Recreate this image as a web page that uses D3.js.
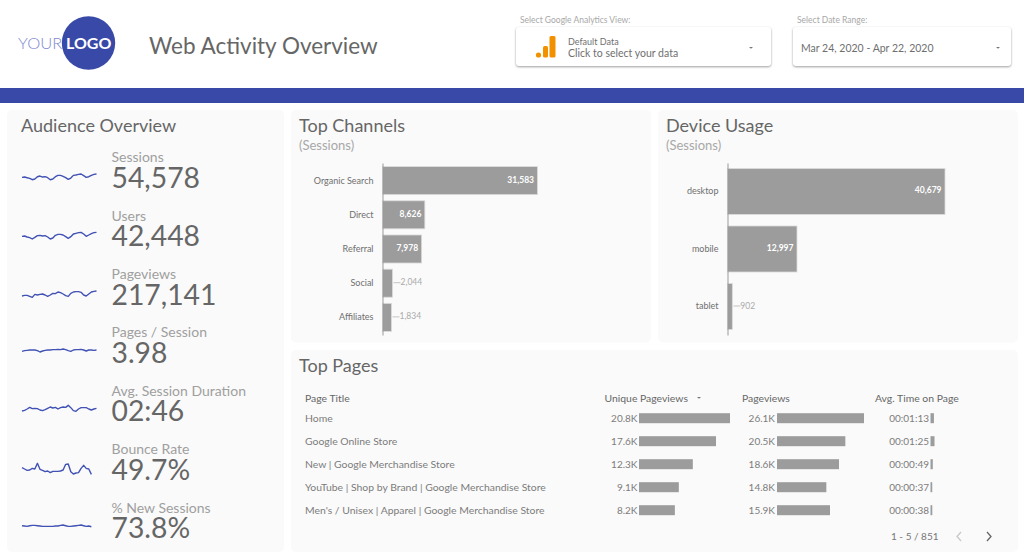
<!DOCTYPE html>
<html>
<head>
<meta charset="utf-8">
<script src="https://cdn.jsdelivr.net/npm/d3@7"></script>
<style>
  html, body { margin: 0; padding: 0; background: #fff; overflow: hidden; }
  svg { display: block; font-family: Lato, sans-serif; }
  .axis path { stroke: #9a9a9a; }
  .axis text { font-family: Lato, sans-serif; font-size: 9px; fill: #6f6f6f; }
</style>
</head>
<body>
<div id="chart"></div>
<script>
/* Web Activity Overview — D3 dashboard */

const metricNames = ["Sessions", "Users", "Pageviews", "Pages / Session", "Avg. Session Duration", "Bounce Rate", "% New Sessions"];
const metricValues = ["54,578", "42,448", "217,141", "3.98", "02:46", "49.7%", "73.8%"];

const sessionsTrend = [28,29,27,25,21,23,30,32,29,30,27,21,23,30,34,34,31,27,22,26,34,35,37,38,33,28,30,34,37,38];
const usersTrend = [29,30,27,25,21,26,31,32,30,31,27,21,24,32,35,35,33,28,23,28,36,38,40,41,36,29,33,37,40,41];
const pageviewsTrend = [27,29,29,26,23,32,30,32,33,30,26,30,35,34,39,37,33,28,26,35,39,40,40,38,30,27,33,39,41,42];
const pagesTrend = [26,28,29,30,30,30,28,24,27,29,30,30,31,31,32,31,33,31,28,26,30,31,31,32,30,27,30,30,29,30];
const durationTrend = [24,26,30,35,31,32,31,27,25,28,32,36,33,35,30,34,36,35,41,34,25,23,30,34,34,34,30,27,30,32];
const bounceTrend = [37,33,29,30,35,33,50,32,29,25,27,22,26,26,26,27,30,47,48,25,18,21,22,35,44,35,33,17];
const newSessionsTrend = [30,29,28,30,31,31,30,29,28,28,28,28,28,29,29,31,32,30,28,28,29,30,31,32,30,28,29,27];
const trends = [sessionsTrend, usersTrend, pageviewsTrend, pagesTrend, durationTrend, bounceTrend, newSessionsTrend];

const channelNames = ["Organic Search", "Direct", "Referral", "Social", "Affiliates"];
const channelSessions = [31583, 8626, 7978, 2044, 1834];

const deviceNames = ["desktop", "mobile", "tablet"];
const deviceSessions = [40679, 12997, 902];

const pageTitles = [
  "Home",
  "Google Online Store",
  "New | Google Merchandise Store",
  "YouTube | Shop by Brand | Google Merchandise Store",
  "Men's / Unisex | Apparel | Google Merchandise Store",
];
const uniquePageviews = [20800, 17600, 12300, 9100, 8200];
const pageviews = [26100, 20500, 18600, 14800, 15900];
const avgTimeSeconds = [73, 85, 49, 37, 38];

const BLUE = "#3949a8";
const BAR = "#9c9c9c";
const CARD = "#fafafa";
const TITLE = "#666";

const svg = d3.select("#chart").append("svg").attr("width", 1024).attr("height", 559);

function label(g, x, y, text, size, fill, anchor, weight) {
  return g.append("text")
    .attr("x", x).attr("y", y)
    .attr("font-size", size)
    .attr("fill", fill)
    .attr("text-anchor", anchor || "start")
    .attr("font-weight", weight || 400)
    .text(text);
}

function card(x0, y0, x1, y1) {
  svg.append("rect")
    .attr("x", x0).attr("y", y0)
    .attr("width", x1 - x0).attr("height", y1 - y0)
    .attr("rx", 5)
    .attr("fill", CARD);
}

// ── Header ────────────────────────────────────────────────────────────────────

function selector(x0, x1) {
  svg.append("rect")
    .attr("x", x0).attr("y", 27)
    .attr("width", x1 - x0).attr("height", 39)
    .attr("rx", 3)
    .attr("fill", "#fff")
    .style("filter", "drop-shadow(0 1px 1px rgba(0,0,0,.38))");
}

function caret(x, y) {
  svg.append("path")
    .attr("d", d3.line()([[x - 2, y], [x + 2, y], [x, y + 1.8]]))
    .attr("fill", "#777");
}

function renderHeader() {
  svg.append("circle").attr("cx", 88.5).attr("cy", 43).attr("r", 26.7).attr("fill", BLUE);
  label(svg, 18, 49, "YOUR", 16.5, "#7f8bd0").attr("font-weight", 300);
  label(svg, 66, 49, "LOGO", 16, "#fff", "start", 700);
  label(svg, 149, 54, "Web Activity Overview", 22.5, TITLE);

  svg.append("rect").attr("x", 0).attr("y", 88).attr("width", 1024).attr("height", 15).attr("fill", BLUE);

  label(svg, 520, 23, "Select Google Analytics View:", 8.5, "#a8a8a8");
  label(svg, 797, 23, "Select Date Range:", 8.5, "#a8a8a8");
  selector(516, 771);
  selector(793, 1011);

  // Analytics icon
  svg.append("circle").attr("cx", 538.5).attr("cy", 55).attr("r", 2.6).attr("fill", "#f29100");
  svg.append("rect").attr("x", 543).attr("y", 46).attr("width", 5).attr("height", 11.5).attr("rx", 1.5).attr("fill", "#f29100");
  svg.append("rect").attr("x", 549.5).attr("y", 36).attr("width", 6).attr("height", 21.5).attr("rx", 1.5).attr("fill", "#f29100");

  label(svg, 568, 45, "Default Data", 9, "#6f6f6f");
  label(svg, 568, 57, "Click to select your data", 10.5, "#6f6f6f");
  label(svg, 801, 51.5, "Mar 24, 2020 - Apr 22, 2020", 10.5, "#6f6f6f");
  caret(751, 47);
  caret(998, 47);
}

// ── Audience Overview ─────────────────────────────────────────────────────────

function renderAudience() {
  card(7, 110, 284, 552);
  label(svg, 21, 131.5, "Audience Overview", 18, TITLE);

  const sparkMid = [176.7, 236, 295, 350, 409, 470, 525.7];
  const x = d3.scaleLinear().domain([0, 29]).range([22, 96.5]);

  metricNames.forEach((name, i) => {
    const base = 187.8 + i * 58.4;
    label(svg, 111.5, base - 25.7, name, 14, "#9f9f9f");
    label(svg, 111.5, base, metricValues[i], 28.3, "#666");

    const y = d3.scaleLinear().domain([0, 60]).range([sparkMid[i] + 10, sparkMid[i] - 10]);
    const line = d3.line().x((_, j) => x(j)).y(d => y(d));
    svg.append("path")
      .attr("d", line(trends[i]))
      .attr("fill", "none")
      .attr("stroke", "#4152b4")
      .attr("stroke-width", 1.4)
      .attr("stroke-linejoin", "round");
  });
}

// ── Bar charts ────────────────────────────────────────────────────────────────

function renderBars(names, values, opts) {
  card(opts.x0, 110, opts.x1, 342.5);
  label(svg, opts.x0 + 8, 131.5, opts.title, 18, TITLE);
  label(svg, opts.x0 + 8, 149.5, "(Sessions)", 13, "#a8a8a8");

  const y = d3.scaleBand()
    .domain(names)
    .range([163, 335])
    .paddingInner(opts.padInner)
    .paddingOuter(opts.padOuter);
  const x = d3.scaleLinear().domain([0, opts.max]).range([opts.axisX, opts.axisX + opts.width]);

  const g = svg.append("g");
  g.selectAll("rect")
    .data(values)
    .join("rect")
    .attr("x", opts.axisX)
    .attr("y", (_, i) => y(names[i]))
    .attr("width", d => x(d) - opts.axisX)
    .attr("height", y.bandwidth())
    .attr("fill", BAR)
    .attr("stroke", "#dcdcdc")
    .attr("stroke-width", 0.8);

  values.forEach((v, i) => {
    const cy = y(names[i]) + y.bandwidth() / 2 + 3;
    const text = d3.format(",")(v);
    if (x(v) - opts.axisX > 30) {
      label(g, x(v) - 3.5, cy - 1, text, 8.5, "#fff", "end", 700);
    } else {
      g.append("line")
        .attr("x1", x(v) + 1).attr("x2", x(v) + 8)
        .attr("y1", cy - 3.5).attr("y2", cy - 3.5)
        .attr("stroke", "#c4c4c4");
      label(g, x(v) + 8, cy - 1, text, 8.5, "#aaa");
    }
  });

  svg.append("g")
    .attr("class", "axis")
    .attr("transform", `translate(${opts.axisX},0)`)
    .call(d3.axisLeft(y).tickSize(0).tickPadding(9));
}

// ── Top Pages table ───────────────────────────────────────────────────────────

function fmtK(v) {
  return (v / 1000).toFixed(1) + "K";
}

function fmtTime(s) {
  return "00:" + d3.format("02")(Math.floor(s / 60)) + ":" + d3.format("02")(s % 60);
}

function barColumn(values, fmt, textRight, barLeft, barScale) {
  values.forEach((v, i) => {
    const rowY = 418.2 + i * 23;
    label(svg, textRight, rowY + 3.5, fmt(v), 10, "#7c7c7c", "end");
    svg.append("rect")
      .attr("x", barLeft).attr("y", rowY - 5)
      .attr("width", barScale(v)).attr("height", 10)
      .attr("fill", BAR);
  });
}

function renderTable() {
  card(291, 350, 1018, 552);
  label(svg, 299, 371.5, "Top Pages", 18, TITLE);

  const HEAD = "#666";
  label(svg, 305, 401.5, "Page Title", 10.4, HEAD);
  label(svg, 604.5, 401.5, "Unique Pageviews", 10.4, HEAD);
  label(svg, 742, 401.5, "Pageviews", 10.4, HEAD);
  label(svg, 875, 401.5, "Avg. Time on Page", 10.4, HEAD);
  caret(699, 397);

  pageTitles.forEach((t, i) => {
    label(svg, 305, 421.7 + i * 23, t, 10.4, "#7c7c7c");
  });

  barColumn(uniquePageviews, fmtK, 637.5, 639, d3.scaleLinear().domain([0, 20800]).range([0, 91]));
  barColumn(pageviews, fmtK, 775, 777, d3.scaleLinear().domain([0, 26100]).range([0, 87]));
  barColumn(avgTimeSeconds, fmtTime, 929, 930.5, d3.scaleLinear().domain([0, 85]).range([0, 4]));

  label(svg, 891, 540, "1 - 5 / 851", 10, "#777");
  const chevron = d3.line();
  svg.append("path")
    .attr("d", chevron([[961, 532], [957, 536.5], [961, 541]]))
    .attr("fill", "none").attr("stroke", "#c8c8c8").attr("stroke-width", 1.3);
  svg.append("path")
    .attr("d", chevron([[987, 532], [991, 536.5], [987, 541]]))
    .attr("fill", "none").attr("stroke", "#666").attr("stroke-width", 1.3);
}

renderHeader();
renderAudience();
renderBars(channelNames, channelSessions, {
  title: "Top Channels", x0: 291, x1: 651, axisX: 382.5, width: 155, max: 31583, padInner: 0.18, padOuter: 0.105,
});
renderBars(deviceNames, deviceSessions, {
  title: "Device Usage", x0: 658, x1: 1018, axisX: 727.5, width: 217.5, max: 40679, padInner: 0.2, padOuter: 0.095,
});
renderTable();
</script>
</body>
</html>
